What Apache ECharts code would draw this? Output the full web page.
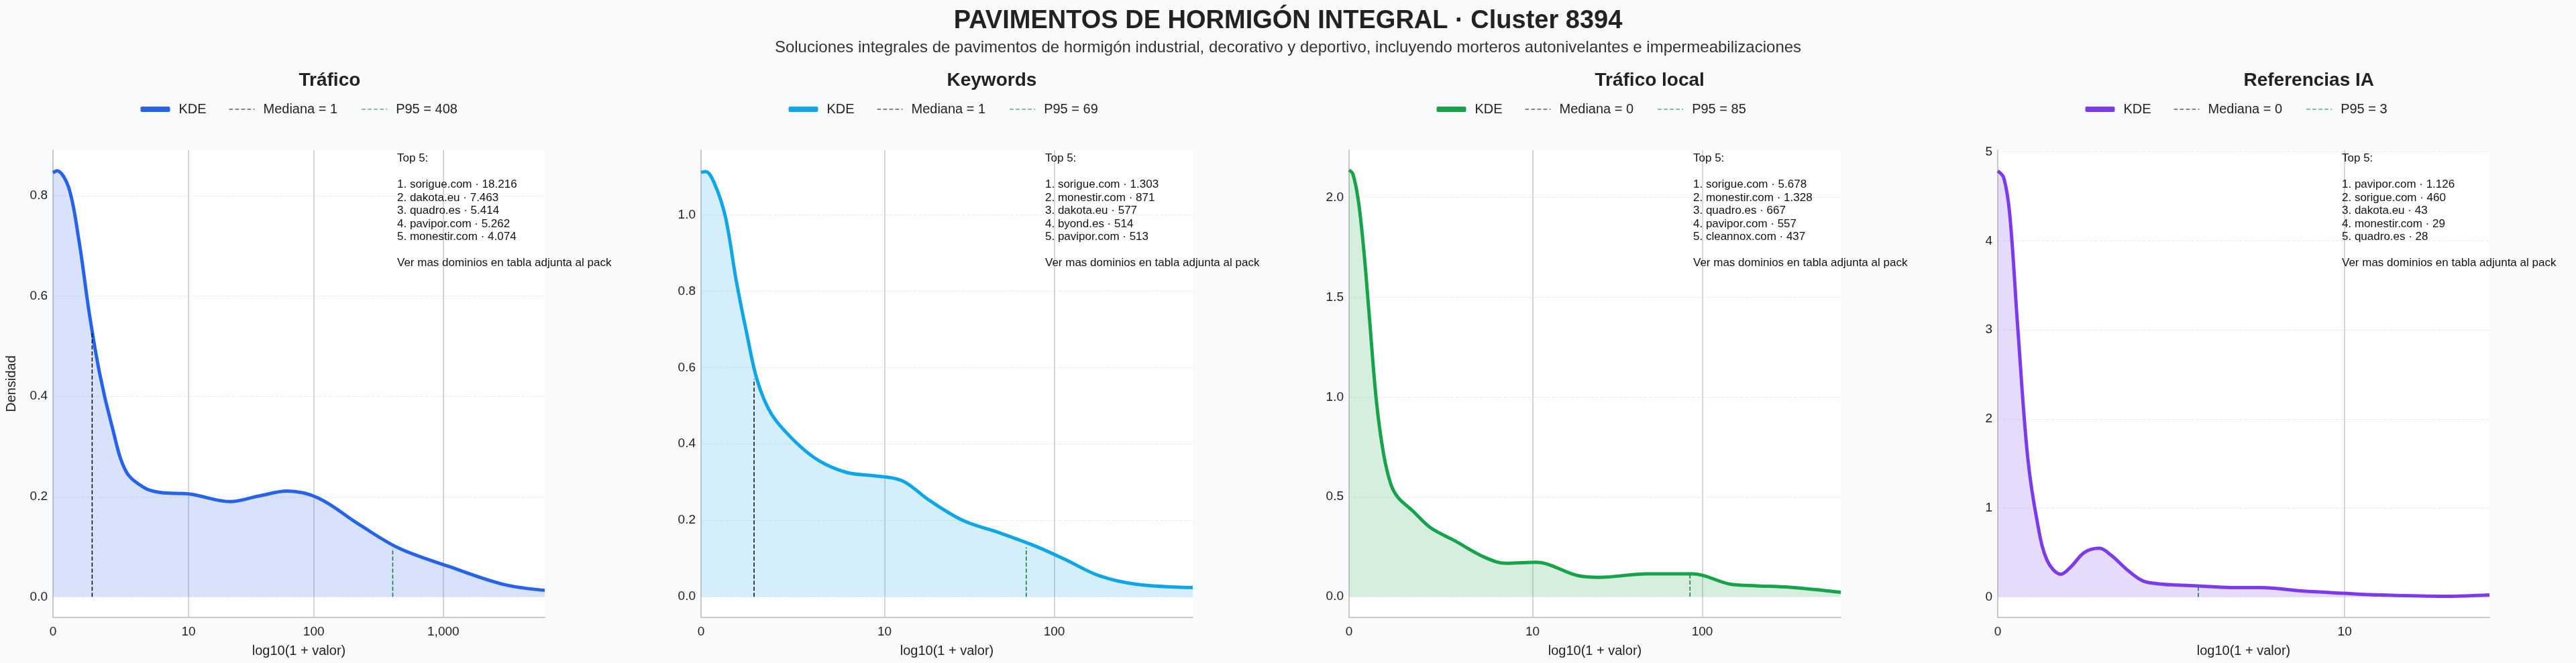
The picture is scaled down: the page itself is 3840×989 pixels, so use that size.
<!DOCTYPE html>
<html><head><meta charset="utf-8">
<script src="https://cdn.jsdelivr.net/npm/echarts@6/dist/echarts.min.js"></script>
<style>html,body{margin:0;padding:0;background:#f8fafc}#c{width:3840px;height:989px}</style>
</head><body><div id="c"></div>
<script>
const titles = ['Tráfico','Keywords','Tráfico local','Referencias IA'];
const colors = ['#2563eb','#0ea5e9','#16a34a','#7c3aed'];
const kde1 = [[0,0.846],[0.03,0.85],[0.12,0.817],[0.2,0.71],[0.28,0.564],[0.36,0.444],[0.45,0.344],[0.56,0.251],[0.70,0.218],[0.83,0.208],[1.055,0.205],[1.36,0.19],[1.58,0.201],[1.80,0.211],[2.04,0.197],[2.35,0.145],[2.66,0.097],[3.05,0.060],[3.46,0.025],[3.78,0.013]];
const kde2 = [[0,1.111],[0.027,1.113],[0.078,1.08],[0.139,0.993],[0.2,0.827],[0.26,0.688],[0.32,0.565],[0.40,0.478],[0.53,0.408],[0.67,0.356],[0.83,0.325],[0.976,0.317],[1.14,0.304],[1.30,0.251],[1.49,0.199],[1.69,0.168],[1.89,0.134],[2.06,0.099],[2.26,0.055],[2.47,0.033],[2.79,0.024]];
const kde3 = [[0,2.137],[0.022,2.117],[0.053,1.983],[0.084,1.733],[0.114,1.416],[0.155,0.982],[0.196,0.715],[0.237,0.564],[0.278,0.497],[0.36,0.431],[0.46,0.347],[0.60,0.28],[0.77,0.197],[0.89,0.167],[1.06,0.172],[1.30,0.105],[1.42,0.097],[1.69,0.114],[1.95,0.114],[2.16,0.063],[2.30,0.055],[2.50,0.047],[2.79,0.022]];
const kde4 = [[0,4.787],[0.018,4.71],[0.036,4.30],[0.06,3.03],[0.09,1.566],[0.12,0.816],[0.149,0.404],[0.19,0.255],[0.22,0.34],[0.26,0.50],[0.305,0.547],[0.34,0.47],[0.39,0.30],[0.436,0.18],[0.49,0.145],[0.53,0.135],[0.60,0.124],[0.70,0.105],[0.79,0.105],[0.914,0.067],[1.04,0.041],[1.15,0.022],[1.344,0.007],[1.476,0.022]];
const medians = [1,1,0,0];
const medianHeights = [0.53,0.57,0,0];
const p95s = [408,69,85,3];
const p95Heights = [0.097,0.13,0.11,0.124];
const xMax = [3.78,2.79,2.79,1.476];
const yMin = [-0.041,-0.054,-0.104,-0.23];
const yMax = [0.891,1.169,2.237,5.02];
const yTicks = [[0,0.2,0.4,0.6,0.8],[0,0.2,0.4,0.6,0.8,1.0],[0,0.5,1.0,1.5,2.0],[0,1,2,3,4,5]];
const xTickLabels = [['0','10','100','1,000'],['0','10','100'],['0','10','100'],['0','10']];
const yDecimals = [1,1,1,0];
const top5 = [
 ['sorigue.com · 18.216','dakota.eu · 7.463','quadro.es · 5.414','pavipor.com · 5.262','monestir.com · 4.074'],
 ['sorigue.com · 1.303','monestir.com · 871','dakota.eu · 577','byond.es · 514','pavipor.com · 513'],
 ['sorigue.com · 5.678','monestir.com · 1.328','quadro.es · 667','pavipor.com · 557','cleannox.com · 437'],
 ['pavipor.com · 1.126','sorigue.com · 460','dakota.eu · 43','monestir.com · 29','quadro.es · 28']];
const kdes = [kde1,kde2,kde3,kde4];

const F = 'Liberation Sans, Arial, sans-serif';
const lefts = [79,1045,2011,2978], W = 733, TOP = 224, H = 697;
const zw = i => '\u200b'.repeat(i);
const DASH = 'path://M0,0h6v1h-6zM9.5,0h6v1h-6zM19,0h6v1h-6zM28.5,0h6v1h-6zM38,0h2v1h-2z';
const grid=[],xAxis=[],yAxis=[],series=[],legend=[],graphic=[];
const tv = labels => labels.map(l => l==='0'?0:Math.log10(1+Number(l.replace(/,/g,''))));
const legText = {fontFamily:F,fontSize:20,color:'#222',padding:[0,0,0,8],lineHeight:24};
for(let i=0;i<4;i++){
  grid.push({left:lefts[i],top:TOP,width:W,height:H,show:true,backgroundColor:'#ffffff',borderWidth:0,containLabel:false});
  const xv = tv(xTickLabels[i]);
  xAxis.push({type:'value',gridIndex:i,min:0,max:xMax[i],name:'log10(1 + valor)',nameLocation:'middle',nameGap:40,
    nameTextStyle:{fontFamily:F,fontSize:20,color:'#222'},
    axisLine:{show:true,onZero:false,lineStyle:{color:'#c8c8c8',width:2}},
    axisTick:{show:false,customValues:xv},
    axisLabel:{customValues:xv,fontFamily:F,fontSize:19,color:'#222',margin:12,
      formatter:v=>{let k=0,b=1e9;xv.forEach((t,j)=>{if(Math.abs(t-v)<b){b=Math.abs(t-v);k=j;}});return xTickLabels[i][k];}},
    splitLine:{show:true,lineStyle:{color:'#c8c8c8',width:1.5}}});
  yAxis.push({type:'value',gridIndex:i,min:yMin[i],max:yMax[i],
    name:i===0?'Densidad':'',nameLocation:'middle',nameGap:52,nameTextStyle:{fontFamily:F,fontSize:20,color:'#222'},
    axisLine:{show:true,lineStyle:{color:'#c8c8c8',width:2}},
    axisTick:{show:false,customValues:yTicks[i]},
    axisLabel:{customValues:yTicks[i],fontFamily:F,fontSize:19,color:'#222',margin:8,formatter:v=>v.toFixed(yDecimals[i])},
    splitLine:{show:true,lineStyle:{color:'#ececec',type:'dashed',width:1.2}}});
  const nK='KDE'+zw(i), nM='Mediana = '+medians[i]+zw(i), nP='P95 = '+p95s[i]+zw(i);
  series.push({type:'line',name:nK,xAxisIndex:i,yAxisIndex:i,data:kdes[i],smooth:0.35,symbol:'none',
    lineStyle:{color:colors[i],width:5},itemStyle:{color:colors[i]},areaStyle:{color:colors[i],opacity:0.18,origin:0},z:3});
  const mx=Math.log10(1+medians[i]), px=Math.log10(1+p95s[i]);
  series.push({type:'line',name:nM,xAxisIndex:i,yAxisIndex:i,data:[[mx,0],[mx,medianHeights[i]]],symbol:'none',
    lineStyle:{color:'#111',width:1.6,type:[6,3]},itemStyle:{color:'#111'},z:4});
  series.push({type:'line',name:nP,xAxisIndex:i,yAxisIndex:i,data:[[px,0],[px,p95Heights[i]]],symbol:'none',
    lineStyle:{color:'#15803d',width:1.6,type:[6,3]},itemStyle:{color:'#15803d'},z:4});
  const cx = lefts[i]+W/2;
  legend.push({data:[{name:nK,icon:'roundRect'}],left:cx-236,top:151,itemWidth:44,itemHeight:8,padding:0,
    textStyle:legText,formatter:n=>n.replace(/\u200b/g,''),selectedMode:false});
  legend.push({data:[{name:nM,icon:DASH},{name:nP,icon:DASH}],left:cx-104,top:151,itemWidth:38,itemHeight:2,itemGap:36,padding:0,
    textStyle:legText,formatter:n=>n.replace(/\u200b/g,''),selectedMode:false});
  graphic.push({type:'text',left:cx,top:106,style:{text:titles[i],font:'bold 28px '+F,fill:'#222',textAlign:'center'}});
  graphic.push({type:'text',left:lefts[i]+513,top:227,style:{
    text:['Top 5:',''].concat(top5[i].map((t,j)=>(j+1)+'. '+t)).concat(['','Ver mas dominios en tabla adjunta al pack']).join('\n'),
    font:'17px '+F,lineHeight:19.5,fill:'#111'},z:10});
}
const chart = echarts.init(document.getElementById('c'));
chart.setOption({backgroundColor:'#f8fafc',animation:false,
  title:[{text:'PAVIMENTOS DE HORMIGÓN INTEGRAL · Cluster 8394',left:'center',top:8,textStyle:{fontFamily:F,fontSize:38,fontWeight:'bold',color:'#222'}},
         {text:'Soluciones integrales de pavimentos de hormigón industrial, decorativo y deportivo, incluyendo morteros autonivelantes e impermeabilizaciones',left:'center',top:54,textStyle:{fontFamily:F,fontSize:24,fontWeight:'normal',color:'#333'}}],
  grid,xAxis,yAxis,series,legend,graphic});
</script></body></html>
